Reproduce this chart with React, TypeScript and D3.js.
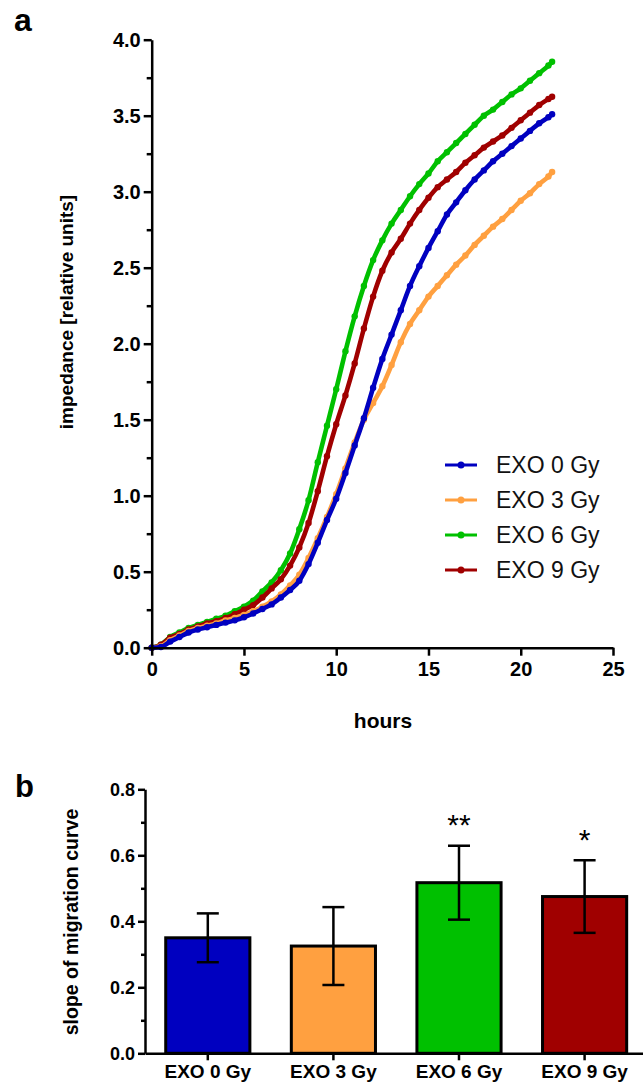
import React, { useEffect, useRef } from 'react';
import * as d3 from 'd3';

// time points (hours) and impedance readings per condition
const hours = [0, 0.5, 1, 1.5, 2, 2.5, 3, 3.5, 4, 4.5, 5, 5.5, 6, 6.5, 7, 7.5, 8, 8.5, 9, 9.5, 10, 10.5, 11, 11.5, 12, 12.5, 13, 13.5, 14, 14.5, 15, 15.5, 16, 16.5, 17, 17.5, 18, 18.5, 19, 19.5, 20, 20.5, 21, 21.5, 21.7];
const exo0 = [0, 0.005, 0.04, 0.07, 0.1, 0.12, 0.135, 0.15, 0.165, 0.18, 0.2, 0.225, 0.255, 0.285, 0.33, 0.38, 0.44, 0.55, 0.69, 0.84, 0.98, 1.15, 1.33, 1.51, 1.71, 1.9, 2.06, 2.22, 2.38, 2.51, 2.63, 2.74, 2.85, 2.93, 3.01, 3.08, 3.14, 3.2, 3.25, 3.3, 3.35, 3.4, 3.45, 3.49, 3.51];
const exo3 = [0, 0.01, 0.05, 0.08, 0.11, 0.13, 0.145, 0.16, 0.18, 0.195, 0.215, 0.24, 0.27, 0.305, 0.35, 0.41, 0.48, 0.59, 0.72, 0.86, 1.01, 1.18, 1.35, 1.5, 1.61, 1.72, 1.86, 2.01, 2.13, 2.22, 2.31, 2.38, 2.45, 2.52, 2.58, 2.65, 2.71, 2.77, 2.82, 2.88, 2.94, 2.99, 3.05, 3.1, 3.13];
const exo6 = [0, 0.02, 0.07, 0.1, 0.13, 0.15, 0.17, 0.19, 0.21, 0.24, 0.27, 0.31, 0.37, 0.43, 0.51, 0.62, 0.78, 0.97, 1.22, 1.46, 1.7, 1.95, 2.18, 2.38, 2.55, 2.68, 2.79, 2.88, 2.97, 3.05, 3.12, 3.2, 3.26, 3.32, 3.38, 3.44, 3.5, 3.54, 3.59, 3.64, 3.68, 3.73, 3.78, 3.83, 3.855];
const exo9 = [0, 0.02, 0.065, 0.09, 0.12, 0.14, 0.16, 0.175, 0.195, 0.22, 0.25, 0.28, 0.33, 0.39, 0.45, 0.54, 0.66, 0.82, 1.03, 1.26, 1.47, 1.66, 1.87, 2.1, 2.31, 2.48, 2.6, 2.69, 2.79, 2.88, 2.96, 3.03, 3.08, 3.13, 3.19, 3.24, 3.29, 3.33, 3.37, 3.42, 3.47, 3.52, 3.57, 3.61, 3.625];

const seriesNames = ['EXO 0 Gy', 'EXO 3 Gy', 'EXO 6 Gy', 'EXO 9 Gy'];
const seriesColors = ['#0000c0', '#ffa040', '#00c000', '#a00000'];
const drawOrder = [2, 3, 1, 0]; // blue ends up on top, like the original

// panel b: slope of migration curve
const categories = ['EXO 0 Gy', 'EXO 3 Gy', 'EXO 6 Gy', 'EXO 9 Gy'];
const slopeMean = [0.35, 0.325, 0.517, 0.475];
const slopeErr = [0.074, 0.118, 0.112, 0.11];
const significance = ['', '', '**', '*'];

const yTicksA = [0, 0.5, 1, 1.5, 2, 2.5, 3, 3.5, 4];
const xTicksA = [0, 5, 10, 15, 20, 25];
const yTicksB = [0, 0.2, 0.4, 0.6, 0.8];

const FONT = '"Liberation Sans", Arial, sans-serif';

const App = () => {
  const ref = useRef<SVGSVGElement>(null);

  useEffect(() => {
    const svg = d3.select(ref.current);
    svg.selectAll('*').remove();
    svg.style('font-family', FONT);

    // ---------- panel a ----------
    const x = d3.scaleLinear().domain([0, 25]).range([151.7, 613]);
    const y = d3.scaleLinear().domain([0, 4]).range([647.7, 39.7]);

    const series = [exo0, exo3, exo6, exo9].map((vals, i) => ({
      name: seriesNames[i],
      color: seriesColors[i],
      points: vals.map((v, j) => ({ h: hours[j], v })),
    }));

    const line = d3
      .line<{ h: number; v: number }>()
      .x((d) => x(d.h))
      .y((d) => y(d.v))
      .curve(d3.curveMonotoneX);

    const lines = svg.append('g');
    drawOrder.forEach((k) => {
      const s = series[k];
      lines
        .append('path')
        .datum(s.points)
        .attr('d', line)
        .attr('fill', 'none')
        .attr('stroke', s.color)
        .attr('stroke-width', 4.6)
        .attr('stroke-linecap', 'round');
      lines
        .selectAll(null)
        .data(s.points)
        .enter()
        .append('circle')
        .attr('cx', (d) => x(d.h))
        .attr('cy', (d) => y(d.v))
        .attr('r', 3.2)
        .attr('fill', s.color);
    });

    // axes
    const yAxisA = svg
      .append('g')
      .attr('transform', `translate(${x(0)},0)`)
      .call(d3.axisLeft(y).tickValues(yTicksA).tickFormat(d3.format('.1f')).tickSize(8).tickSizeOuter(0));
    svg
      .append('g')
      .attr('transform', `translate(${x(0)},0)`)
      .call(d3.axisLeft(y).tickValues(d3.range(0.25, 4, 0.5)).tickFormat(() => '').tickSize(5).tickSizeOuter(0))
      .select('.domain')
      .remove();
    const xAxisA = svg
      .append('g')
      .attr('transform', `translate(0,${y(0)})`)
      .call(d3.axisBottom(x).tickValues(xTicksA).tickFormat(d3.format('d')).tickSize(8).tickSizeOuter(0));

    [yAxisA, xAxisA].forEach((g) => {
      g.selectAll('text').attr('font-size', 20).attr('font-weight', 'bold').attr('fill', '#000').attr('font-family', FONT);
    });
    yAxisA.selectAll('text').attr('x', -11);
    xAxisA.selectAll('text').attr('y', 14);
    svg.selectAll('.domain, .tick line').attr('stroke', '#000').attr('stroke-width', 2.5);

    svg
      .append('text')
      .attr('transform', `translate(73,312) rotate(-90)`)
      .attr('text-anchor', 'middle')
      .attr('font-size', 19)
      .attr('font-weight', 'bold')
      .text('impedance [relative units]');

    svg
      .append('text')
      .attr('x', 383)
      .attr('y', 728)
      .attr('text-anchor', 'middle')
      .attr('font-size', 21)
      .attr('font-weight', 'bold')
      .text('hours');

    svg.append('text').attr('x', 14).attr('y', 31).attr('font-size', 32).attr('font-weight', 'bold').text('a');

    // legend
    const legend = svg
      .append('g')
      .selectAll('g')
      .data(series)
      .enter()
      .append('g')
      .attr('transform', (_d, i) => `translate(445,${465 + i * 35})`);
    legend.append('line').attr('x1', 0).attr('x2', 32).attr('stroke', (d) => d.color).attr('stroke-width', 3);
    legend.append('circle').attr('cx', 16).attr('r', 3.5).attr('fill', (d) => d.color);
    legend
      .append('text')
      .attr('x', 51)
      .attr('dy', '0.35em')
      .attr('font-size', 23)
      .attr('fill', '#111')
      .text((d) => d.name);

    // ---------- panel b ----------
    const xb = d3.scaleBand().domain(categories).range([145, 647.4]).paddingInner(0.33).paddingOuter(0.165);
    const yb = d3.scaleLinear().domain([0, 0.8]).range([1053.3, 789.3]);

    const bars = svg.append('g');
    bars
      .selectAll('rect')
      .data(categories)
      .enter()
      .append('rect')
      .attr('x', (d) => xb(d)!)
      .attr('y', (_d, i) => yb(slopeMean[i]))
      .attr('width', xb.bandwidth())
      .attr('height', (_d, i) => yb(0) - yb(slopeMean[i]))
      .attr('fill', (_d, i) => seriesColors[i])
      .attr('stroke', '#000')
      .attr('stroke-width', 3);

    // error bars
    const err = svg.append('g').attr('stroke', '#000').attr('stroke-width', 2.5);
    categories.forEach((c, i) => {
      const cx = xb(c)! + xb.bandwidth() / 2;
      const hi = yb(slopeMean[i] + slopeErr[i]);
      const lo = yb(slopeMean[i] - slopeErr[i]);
      err.append('line').attr('x1', cx).attr('x2', cx).attr('y1', hi).attr('y2', lo);
      err.append('line').attr('x1', cx - 11).attr('x2', cx + 11).attr('y1', hi).attr('y2', hi);
      err.append('line').attr('x1', cx - 11).attr('x2', cx + 11).attr('y1', lo).attr('y2', lo);
      if (significance[i]) {
        svg
          .append('text')
          .attr('x', cx)
          .attr('y', hi - 10)
          .attr('text-anchor', 'middle')
          .attr('font-size', 30)
          .attr('dy', '0.75em')
          .attr('transform', `translate(0,-23)`)
          .text(significance[i]);
      }
    });

    const yAxisB = svg
      .append('g')
      .attr('transform', `translate(145,0)`)
      .call(d3.axisLeft(yb).tickValues(yTicksB).tickFormat(d3.format('.1f')).tickSize(7).tickSizeOuter(0));
    svg
      .append('g')
      .attr('transform', `translate(145,0)`)
      .call(d3.axisLeft(yb).tickValues([0.1, 0.3, 0.5, 0.7]).tickFormat(() => '').tickSize(4).tickSizeOuter(0))
      .select('.domain')
      .remove();
    const xAxisB = svg
      .append('g')
      .attr('transform', `translate(0,${yb(0)})`)
      .call(d3.axisBottom(xb).tickSize(7).tickSizeOuter(0));

    yAxisB.selectAll('text').attr('font-size', 18).attr('font-weight', 'bold').attr('x', -10).attr('font-family', FONT).attr('fill', '#000');
    xAxisB.selectAll('text').attr('font-size', 19).attr('font-weight', 'bold').attr('y', 11).attr('font-family', FONT).attr('fill', '#000');
    svg.selectAll('.domain, .tick line').attr('stroke', '#000').attr('stroke-width', 2.5);

    svg
      .append('text')
      .attr('transform', `translate(78,922) rotate(-90)`)
      .attr('text-anchor', 'middle')
      .attr('font-size', 19.5)
      .attr('font-weight', 'bold')
      .text('slope of migration curve');

    svg.append('text').attr('x', 15).attr('y', 797).attr('font-size', 31).attr('font-weight', 'bold').text('b');
  }, []);

  return (
    <svg ref={ref} width={643} height={1084} style={{ position: 'absolute', left: 0, top: 0, background: '#fff' }} />
  );
};

export default App;
